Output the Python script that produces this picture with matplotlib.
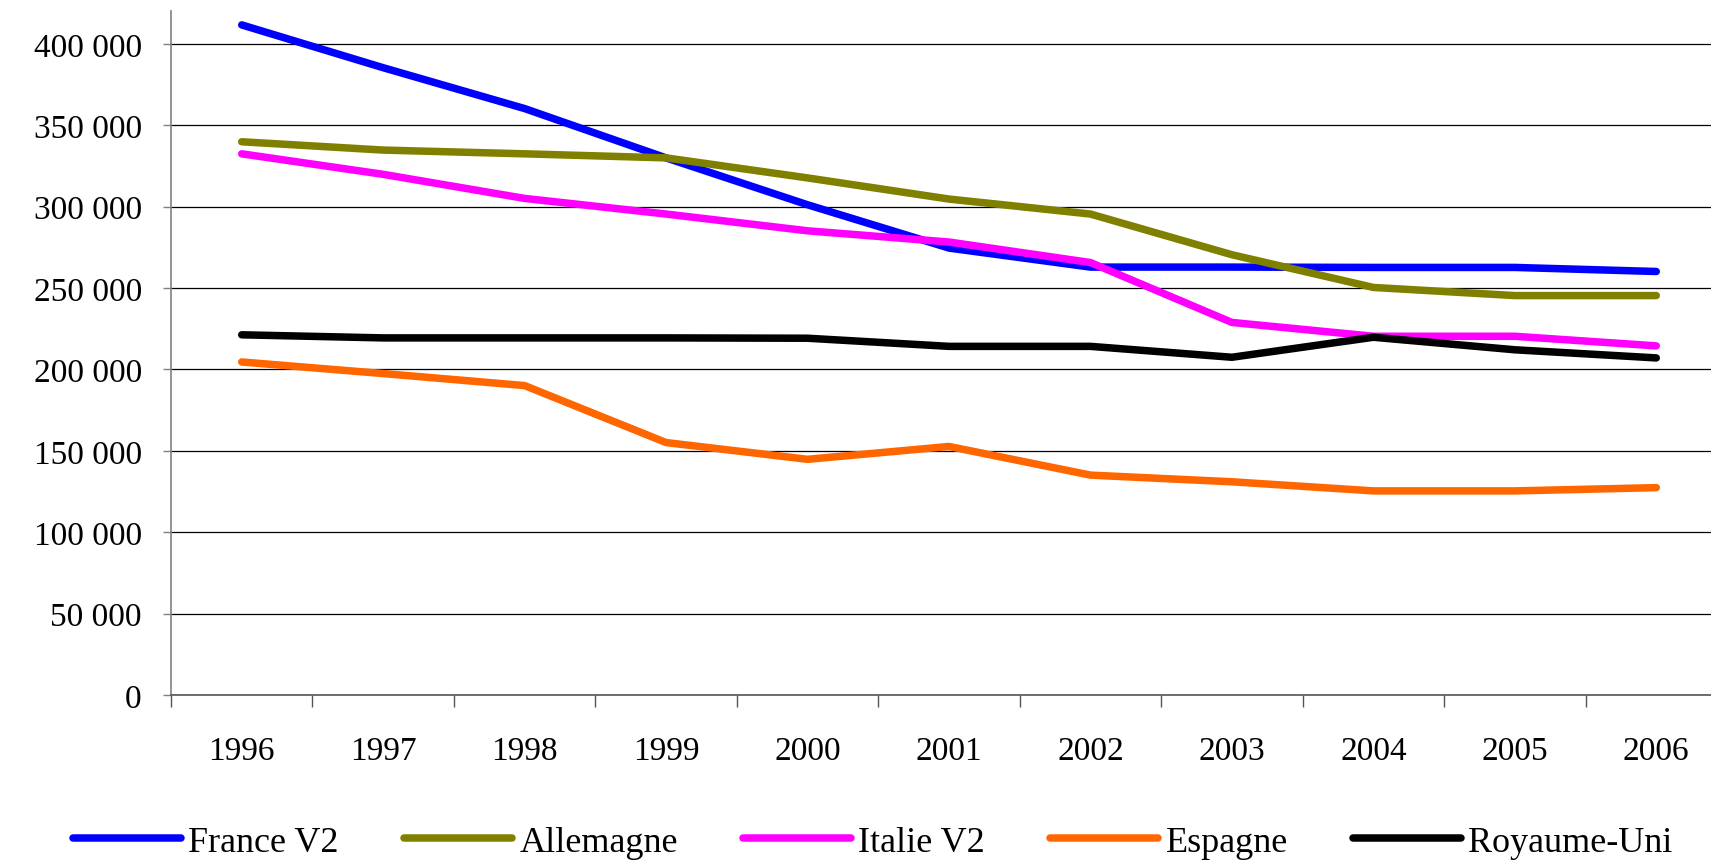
import matplotlib
matplotlib.use("Agg")
import matplotlib.pyplot as plt
from matplotlib.ticker import FuncFormatter, FixedLocator, NullFormatter

years = ["1996", "1997", "1998", "1999", "2000", "2001", "2002", "2003", "2004", "2005", "2006"]

france_v2 = [411700, 385400, 360300, 330000, 301200, 274600, 262900, 262900, 262700, 262700, 260200]
allemagne = [339900, 334800, 332500, 330000, 317700, 304700, 295500, 270500, 250400, 245400, 245400]
italie_v2 = [332500, 319900, 305100, 295500, 285200, 278300, 265700, 228900, 220400, 220400, 214500]
espagne = [204600, 197500, 190100, 155100, 144800, 152700, 135100, 131000, 125400, 125400, 127400]
royaume_uni = [221300, 219400, 219400, 219400, 219200, 214200, 214200, 207500, 219800, 212100, 207100]

series = [
    ("France V2", france_v2, "#0000FF"),
    ("Allemagne", allemagne, "#808000"),
    ("Italie V2", italie_v2, "#FF00FF"),
    ("Espagne", espagne, "#FF6600"),
    ("Royaume-Uni", royaume_uni, "#000000"),
]

plt.rcParams["font.family"] = ["Liberation Serif", "DejaVu Serif"]

fig = plt.figure(figsize=(17.11, 8.62), dpi=100)
ax = fig.add_axes([171 / 1711, 166 / 862, 1556 / 1711, 683.6 / 862])

x = list(range(len(years)))
for name, vals, col in series:
    ax.plot(x, vals, color=col, lw=5.4, solid_capstyle="round",
            solid_joinstyle="round", label=name, zorder=3)

ax.set_xlim(-0.5, len(years) - 0.5)
ax.set_ylim(0, 420000)

# y axis
ax.set_yticks(range(0, 400001, 50000))
ax.yaxis.set_major_formatter(FuncFormatter(lambda v, p: f"{v:,.0f}".replace(",", " ")))
ax.tick_params(axis="y", direction="out", length=6, width=1, color="#808080",
               labelsize=24, pad=15)
ax.grid(axis="y", color="#000000", lw=0.9, zorder=1)

# x axis: boundary ticks, labels centered
ax.xaxis.set_major_locator(FixedLocator([i - 0.5 for i in range(len(years) + 1)]))
ax.xaxis.set_major_formatter(NullFormatter())
ax.xaxis.set_minor_locator(FixedLocator(x))
ax.set_xticklabels(years, minor=True)
ax.tick_params(axis="x", which="major", direction="out", length=8.6, width=1, color="#555555")
ax.tick_params(axis="x", which="minor", length=0, labelsize=24, pad=29)

for s in ["top", "right"]:
    ax.spines[s].set_visible(False)
ax.spines["left"].set_color("#808080")
ax.spines["left"].set_linewidth(1.2)
ax.spines["bottom"].set_color("#555555")
ax.spines["bottom"].set_linewidth(1.2)

fig.legend(loc="center", bbox_to_anchor=(0.51, 0.022), ncol=5, frameon=False,
           fontsize=26, handlelength=3.0, handletextpad=0.2, columnspacing=1.8)

fig.savefig("out.png", dpi=100)
